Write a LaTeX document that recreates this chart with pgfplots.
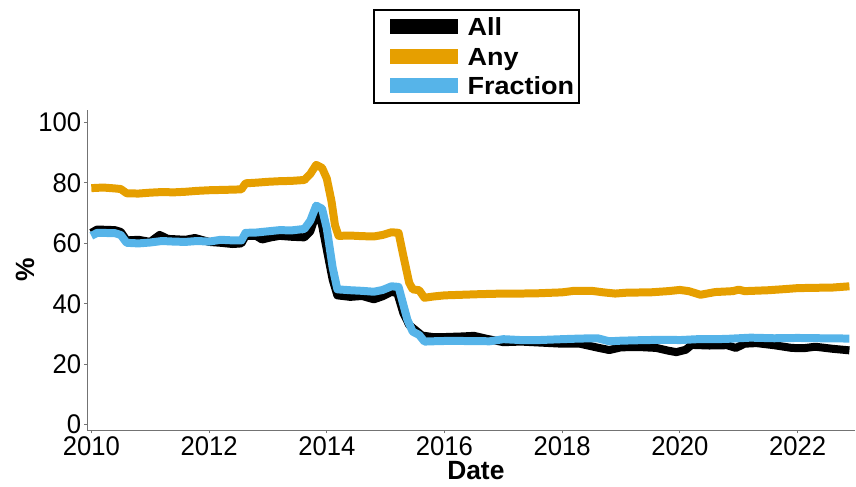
\documentclass[border=0pt]{standalone}
\usepackage{fontspec}
\setmainfont{Liberation Sans}
\newfontfamily\tickfont{Liberation Sans}[FakeStretch=0.95]
\newfontfamily\legfont{Liberation Sans}[FakeStretch=1.09]
\usepackage{pgfplots}
\pgfplotsset{compat=1.18}
\definecolor{cAny}{HTML}{E69F00}
\definecolor{cFrac}{HTML}{56B4E9}
\begin{document}
\begin{tikzpicture}
\begin{axis}[
  name=ax,
  scale only axis,
  width=384.4pt, height=160.4pt,
  xmin=2009.93, xmax=2022.98,
  ymin=-1.9, ymax=104.2,
  axis x line*=bottom, axis y line*=left,
  axis line style={draw=gray!90!black, line width=0.7pt},
  xtick={2010,2012,...,2022},
  ytick={0,20,...,100},
  tick align=outside,
  major tick length=1.5pt,
  tick style={draw=gray!90!black, line width=0.5pt},
  /pgf/number format/assume math mode=true,
  /pgf/number format/1000 sep={},
  tick label style={font=\tickfont\fontsize{13.5}{15}\selectfont},
  xticklabel style={inner sep=0pt, yshift=-1.6pt},
  yticklabel style={inner sep=1.4pt},
  xlabel={Date},
  ylabel={\%},
  xlabel style={font=\bfseries\fontsize{13.2}{15}\selectfont, at={(axis description cs:0.506,-0.126)}, anchor=center},
  ylabel style={font=\bfseries\fontsize{13.2}{15}\selectfont, at={(axis description cs:-0.081,0.5)}, anchor=center},
  legend style={at={(0.5064,1.314)}, anchor=north, draw=black, line width=1pt,
    font=\legfont\bfseries\fontsize{12.4}{14}\selectfont, inner xsep=2.3pt, inner ysep=2.95pt,
    nodes={inner sep=0pt, text height=9.8pt, text depth=1pt},
    row sep=3.95pt, column sep=1.2pt},
  legend cell align=left,
  legend image code/.code={\path[draw=none] (0pt,0pt) -- (39.75pt,0pt);\draw[line width=7.5pt, line cap=butt] (6.05pt,0pt) -- (39.75pt,0pt);},
  every axis plot/.append style={line width=4pt, line join=round},
  clip=false,
]
\addplot[black] coordinates {
(2010.00,63.5) (2010.10,64.6) (2010.40,64.4) (2010.50,63.8) (2010.60,61.0) (2010.80,61.2)
(2011.00,60.5) (2011.16,62.8) (2011.30,61.5) (2011.60,61.2) (2011.76,61.8) (2012.00,60.5)
(2012.20,60.2) (2012.40,59.8) (2012.55,60.0) (2012.62,62.5) (2012.80,62.5) (2012.90,61.3)
(2013.05,62.0) (2013.20,62.5) (2013.40,62.2) (2013.62,62.0) (2013.72,64.0) (2013.84,71.0)
(2013.92,66.0) (2014.00,58.0) (2014.10,48.0) (2014.18,42.8) (2014.40,42.3) (2014.60,42.6)
(2014.80,41.5) (2014.95,42.5) (2015.10,44.0) (2015.20,43.5) (2015.30,37.0) (2015.40,33.0)
(2015.50,31.4) (2015.62,29.5) (2015.80,29.0) (2016.00,29.0) (2016.30,29.2) (2016.50,29.4)
(2016.70,28.5) (2017.00,27.3) (2017.30,27.5) (2017.60,27.2) (2018.00,26.8) (2018.30,26.8)
(2018.60,25.5) (2018.80,24.7) (2019.00,25.6) (2019.30,25.7) (2019.60,25.4) (2019.80,24.5)
(2019.94,24.0) (2020.10,24.8) (2020.20,26.4) (2020.50,26.2) (2020.80,26.3) (2020.95,25.4)
(2021.10,26.8) (2021.30,27.0) (2021.60,26.3) (2021.90,25.4) (2022.10,25.3) (2022.30,25.8)
(2022.60,25.1) (2022.88,24.6)
};
\addlegendentry{All}
\addplot[cAny] coordinates {
(2010.00,78.3) (2010.20,78.5) (2010.40,78.2) (2010.50,78.0) (2010.60,76.6) (2010.80,76.5)
(2011.00,76.8) (2011.20,77.0) (2011.40,76.9) (2011.60,77.1) (2011.80,77.4) (2012.00,77.6)
(2012.20,77.7) (2012.40,77.8) (2012.55,77.9) (2012.62,79.9) (2012.80,80.1) (2013.00,80.4)
(2013.20,80.6) (2013.40,80.7) (2013.62,81.0) (2013.72,83.0) (2013.82,86.0) (2013.92,85.0)
(2014.00,81.5) (2014.08,74.0) (2014.14,66.0) (2014.20,62.5) (2014.40,62.6) (2014.60,62.4)
(2014.80,62.3) (2014.95,62.8) (2015.10,63.7) (2015.22,63.5) (2015.30,56.0) (2015.40,47.0)
(2015.46,44.8) (2015.57,44.5) (2015.66,42.0) (2015.80,42.4) (2016.00,42.8) (2016.30,43.0)
(2016.60,43.2) (2017.00,43.4) (2017.30,43.4) (2017.60,43.5) (2018.00,43.8) (2018.20,44.3)
(2018.50,44.3) (2018.70,43.8) (2018.90,43.4) (2019.10,43.7) (2019.50,43.8) (2019.80,44.2)
(2020.00,44.6) (2020.15,44.2) (2020.35,43.0) (2020.60,43.9) (2020.90,44.2) (2021.00,44.7)
(2021.10,44.2) (2021.50,44.5) (2021.80,44.9) (2022.00,45.2) (2022.30,45.3) (2022.60,45.4)
(2022.88,45.8)
};
\addlegendentry{Any}
\addplot[cFrac] coordinates {
(2010.00,62.5) (2010.10,63.5) (2010.40,63.4) (2010.50,62.8) (2010.60,60.2) (2010.80,60.0)
(2011.00,60.3) (2011.20,60.8) (2011.40,60.6) (2011.60,60.5) (2011.80,60.8) (2012.00,60.6)
(2012.20,61.2) (2012.40,61.0) (2012.55,61.0) (2012.62,63.5) (2012.80,63.6) (2013.00,64.0)
(2013.20,64.4) (2013.40,64.3) (2013.62,64.8) (2013.72,67.5) (2013.82,72.5) (2013.92,71.5)
(2014.00,65.0) (2014.10,52.0) (2014.18,44.8) (2014.40,44.5) (2014.60,44.3) (2014.80,44.0)
(2014.95,44.6) (2015.10,45.8) (2015.22,45.6) (2015.37,34.7) (2015.46,30.8) (2015.57,29.7)
(2015.66,27.5) (2015.80,27.6) (2016.00,27.7) (2016.30,27.7) (2016.77,27.6) (2017.00,28.3)
(2017.30,28.0) (2017.60,28.0) (2018.00,28.3) (2018.30,28.5) (2018.60,28.6) (2018.80,27.6)
(2019.00,27.8) (2019.40,28.0) (2019.80,28.1) (2020.00,28.0) (2020.30,28.3) (2020.60,28.3)
(2020.80,28.4) (2021.00,28.6) (2021.20,28.8) (2021.60,28.6) (2022.00,28.7) (2022.40,28.6)
(2022.88,28.5)
};
\addlegendentry{Fraction}
\end{axis}
\path ([xshift=-43.65pt,yshift=-26.6pt]ax.south west) rectangle ([yshift=55pt]ax.north east);
\end{tikzpicture}
\end{document}
